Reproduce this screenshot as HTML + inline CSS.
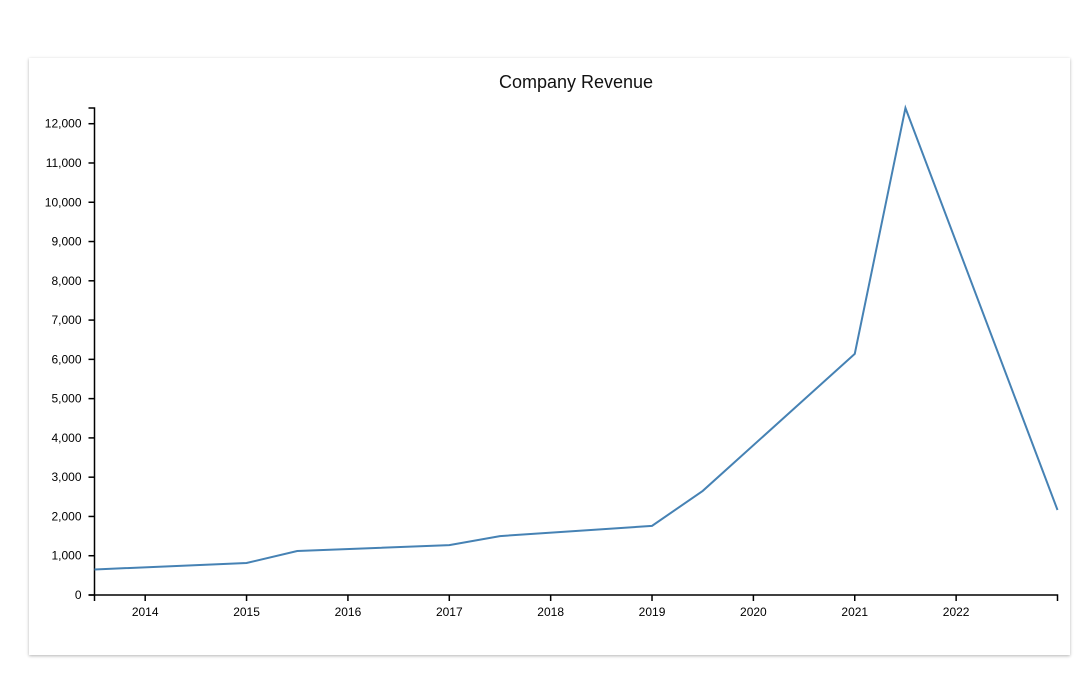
<!DOCTYPE html>
<html><head><meta charset="utf-8"><style>
body{margin:0;width:1090px;height:673px;background:#fff;font-family:"Liberation Sans",sans-serif;overflow:hidden}
#card{position:absolute;left:29px;top:58px;width:1041px;height:597px;background:#fff;box-shadow:0 1px 3px rgba(0,0,0,0.3)}
svg{position:absolute;left:0;top:0}
</style></head><body>
<div id="card"></div>
<svg id="chart" width="1090" height="673">
<text x="576" y="88" text-anchor="middle" font-size="18" fill="#111" font-family="Liberation Sans, sans-serif">Company Revenue</text>
</svg>
<script>
const years = [2013.5, 2015, 2015.5, 2017, 2017.5, 2019, 2019.5, 2021, 2021.5, 2023];
const revenue = [650, 815, 1120, 1270, 1500, 1760, 2650, 6140, 12400, 2165];
const yTicks = [0,1000,2000,3000,4000,5000,6000,7000,8000,9000,10000,11000,12000];
const xTicks = [2014,2015,2016,2017,2018,2019,2020,2021,2022];
const svg = document.getElementById('chart');
const NS='http://www.w3.org/2000/svg';
const x0=94.5,x1=1057.5,y0=595,y1=108;
const xMin=Math.min(...years), xMax=Math.max(...years), yMax=Math.max(...revenue);
const X=v=>x0+(v-xMin)/(xMax-xMin)*(x1-x0);
const Y=v=>y0-v/yMax*(y0-y1);
function mk(t,a){const e=document.createElementNS(NS,t);for(const k in a)e.setAttribute(k,a[k]);svg.appendChild(e);return e;}
let ya=mk('path',{d:`M${x0-6},${y1}H${x0}V${y0}H${x0-6}`,stroke:'#000',fill:'none','stroke-width':1.5});


let xa=mk('path',{d:`M${x0},${y0+6}V${y0}H${x1}V${y0+6}`,stroke:'#000',fill:'none','stroke-width':1.5});


yTicks.forEach(v=>{
  const y=Y(v);
  const l=mk('line',{x1:x0-6,x2:x0,y1:y,y2:y,stroke:'#000','stroke-width':1.5});
  
  
  const t=mk('text',{x:x0-13,y:y+4,'text-anchor':'end','font-size':12,fill:'#000'});
  t.textContent=v.toLocaleString('en-US');
  
  
});
xTicks.forEach(v=>{
  const x=X(v);
  const l=mk('line',{x1:x,x2:x,y1:y0,y2:y0+6,stroke:'#000','stroke-width':1.5});
  
  
  const t=mk('text',{x:x,y:y0+21,'text-anchor':'middle','font-size':12,fill:'#000'});
  t.textContent=v;
  
  
});
const line=mk('path',{d:years.map((v,i)=>(i?'L':'M')+X(v)+','+Y(revenue[i])).join(''),stroke:'#4682b4',fill:'none','stroke-width':2});


</script>
</body></html>
